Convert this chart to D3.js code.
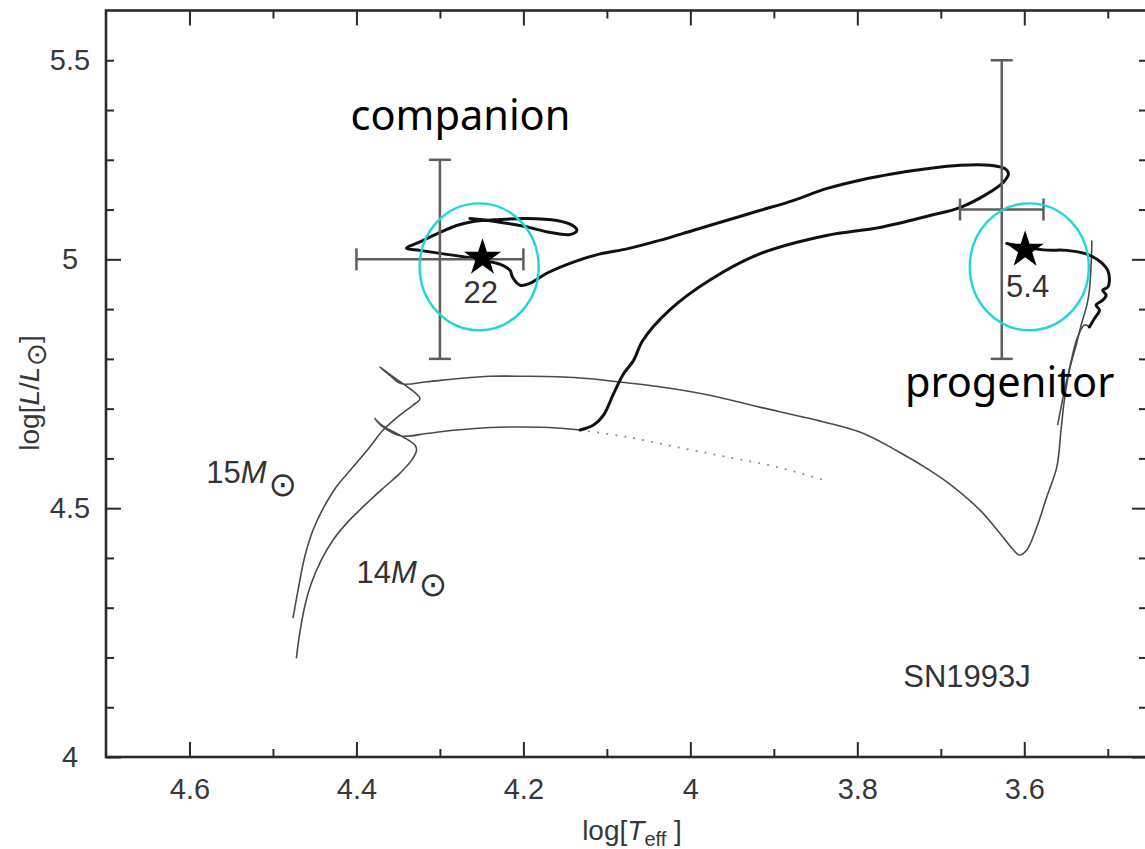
<!DOCTYPE html>
<html><head><meta charset="utf-8">
<script src="https://cdn.jsdelivr.net/npm/d3@7"></script>
<style>body{margin:0;background:#fff}svg{display:block}</style>
</head><body>
<svg id="c" width="1145" height="849"></svg>
<script>
// ---- axes ----
const xDomain = [4.7, 3.453];
const yDomain = [4.0, 5.5];
const xTickValues = [4.6, 4.4, 4.2, 4.0, 3.8, 3.6];
const xTickLabels = ["4.6", "4.4", "4.2", "4", "3.8", "3.6"];
const xMinorTicks = [4.5, 4.3, 4.1, 3.9, 3.7, 3.5];
const yTickValues = [4.0, 4.5, 5.0];
const yMinorTicks = [4.1, 4.2, 4.3, 4.4, 4.6, 4.7, 4.8, 4.9, 5.1, 5.2, 5.3, 5.4];
const yLabelValues = [4.0, 4.5, 5.0, 5.4];
const yTickLabels = ["4", "4.5", "5", "5.5"];

// ---- tracks [log Teff, log L] ----
const track15Msun = [[4.476,4.279],[4.470,4.335],[4.462,4.402],[4.452,4.456],[4.440,4.499],[4.424,4.543],[4.404,4.583],[4.384,4.623],[4.368,4.657],[4.348,4.687],[4.332,4.707],[4.324,4.720],
  [4.336,4.740],[4.356,4.764],[4.372,4.784],[4.360,4.767],[4.346,4.750],
  [4.316,4.754],[4.280,4.760],[4.240,4.765],[4.200,4.765],[4.160,4.764],[4.120,4.760],[4.088,4.754],[4.037,4.744],[3.977,4.727],[3.917,4.703],[3.857,4.680],[3.797,4.653],
  [3.749,4.612],[3.713,4.576],[3.685,4.543],[3.653,4.496],[3.629,4.449],[3.613,4.416],[3.606,4.406],[3.597,4.416],[3.585,4.462],[3.573,4.523],[3.561,4.583],[3.556,4.657],[3.552,4.717],[3.546,4.777],[3.538,4.827],[3.531,4.873],[3.525,4.908],[3.522,4.938],[3.520,4.988],[3.519,5.038]];
const track15Loop = [[3.560,4.667],[3.553,4.727],[3.545,4.787],[3.537,4.840],[3.528,4.868],[3.522,4.864]];
const track15Final = [[3.522,4.864],[3.516,4.881],[3.510,4.898],[3.514,4.908],[3.506,4.918],[3.502,4.928],[3.506,4.938],[3.500,4.944],[3.498,4.958],[3.500,4.978],[3.506,4.991],[3.514,5.001],[3.526,5.011],[3.549,5.018],[3.577,5.019],[3.621,5.032]];
const track14Msun = [[4.472,4.198],[4.468,4.248],[4.462,4.302],[4.454,4.349],[4.442,4.396],[4.428,4.436],[4.410,4.473],[4.390,4.506],[4.368,4.540],[4.348,4.570],[4.334,4.596],[4.328,4.616],[4.330,4.627],[4.344,4.643],[4.360,4.657],[4.372,4.670],[4.378,4.680],[4.368,4.663],[4.346,4.645],
  [4.316,4.650],[4.280,4.657],[4.240,4.662],[4.200,4.663],[4.160,4.661],[4.132,4.657]];
const track14NoAccretion = [[4.132,4.657],[4.076,4.643],[4.017,4.623],[3.957,4.603],[3.897,4.583],[3.839,4.556]];
const trackAccretor = [[4.132,4.657],[4.116,4.667],[4.104,4.687],[4.092,4.730],[4.080,4.770],[4.068,4.797],[4.057,4.837],[4.025,4.898],[3.977,4.958],[3.917,5.011],[3.837,5.048],[3.773,5.064],[3.713,5.088],[3.677,5.104],[3.645,5.131],[3.625,5.155],[3.619,5.172],[3.623,5.182],[3.641,5.189],[3.677,5.189],[3.717,5.182],[3.757,5.172],[3.797,5.159],[3.837,5.142],[3.877,5.118],[3.917,5.098],[3.957,5.078],[3.997,5.058],[4.037,5.038],[4.076,5.021],[4.108,5.011],[4.141,4.994],[4.172,4.972],[4.192,4.952],[4.204,4.948],[4.213,4.964],[4.216,4.978],[4.225,4.988],[4.232,4.992],[4.249,4.998],[4.268,5.004],[4.300,5.012],[4.324,5.018],[4.340,5.022],[4.320,5.038],[4.300,5.054],[4.280,5.068],[4.260,5.076],[4.228,5.080],[4.196,5.082],[4.160,5.078],[4.141,5.068],[4.136,5.058],[4.144,5.050],[4.168,5.054],[4.198,5.066],[4.234,5.076],[4.264,5.082]];

// ---- observed stars ----
const starNames = ["companion", "progenitor"];
const starT = [4.249, 3.599];
const starL = [5.003, 5.019];
const errT = [4.30, 3.627];
const errL = [5.0, 5.1];
const errDT = [0.1, 0.05];
const errDL = [0.2, 0.3];
const massLabels = ["22", "5.4"];
const massLabelT = [4.251, 3.596];
const massLabelL = [4.912, 4.924];
const circleT = [4.253, 3.594];
const circleL = [4.985, 4.985];
const circleRT = [0.0713, 0.0713];
const circleRL = [0.1275, 0.1275];
const nameT = [4.407, 3.743];
const nameL = [5.259, 4.723];

const svg = d3.select("#c");
const x = d3.scaleLinear().domain(xDomain).range([106, 1147]);
const y = d3.scaleLinear().domain(yDomain).range([757, 10.5]);
const axisFont = "'Liberation Sans', Arial, Helvetica, sans-serif";
const ink = "#2b2b2b";

svg.append("rect").attr("width",1145).attr("height",849).attr("fill","#fff");

function styleAxis(g){
  g.select(".domain").remove();
  g.selectAll(".tick line").attr("stroke", ink).attr("stroke-width", 2);
  g.selectAll("text").attr("font-family", axisFont).attr("font-size", 29).attr("fill", "#383838");
}
// bottom
svg.append("g").attr("transform","translate(0,757)")
  .call(d3.axisBottom(x).tickValues(xTickValues).tickFormat((d,i)=>xTickLabels[i]).tickSizeInner(-15).tickSizeOuter(0).tickPadding(21)).call(styleAxis);
svg.append("g").attr("transform","translate(0,757)")
  .call(d3.axisBottom(x).tickValues(xMinorTicks).tickFormat("").tickSizeInner(-8).tickSizeOuter(0)).call(styleAxis);
// top
svg.append("g").attr("transform","translate(0,10.5)")
  .call(d3.axisTop(x).tickValues(xTickValues).tickFormat("").tickSizeInner(-15).tickSizeOuter(0)).call(styleAxis);
svg.append("g").attr("transform","translate(0,10.5)")
  .call(d3.axisTop(x).tickValues(xMinorTicks).tickFormat("").tickSizeInner(-8).tickSizeOuter(0)).call(styleAxis);
// left
svg.append("g").attr("transform","translate(106,0)")
  .call(d3.axisLeft(y).tickValues(yTickValues).tickFormat("").tickSizeInner(-15).tickSizeOuter(0)).call(styleAxis);
svg.append("g").attr("transform","translate(106,0)")
  .call(d3.axisLeft(y).tickValues(yMinorTicks).tickFormat("").tickSizeInner(-8).tickSizeOuter(0)).call(styleAxis);
const yl = svg.append("g").attr("transform","translate(106,0)")
  .call(d3.axisLeft(y).tickValues(yLabelValues).tickFormat((d,i)=>yTickLabels[i]).tickSize(0).tickPadding(36)).call(styleAxis);
yl.selectAll("text").attr("text-anchor","middle");
// right
svg.append("g").attr("transform","translate(1147,0)")
  .call(d3.axisRight(y).tickValues(yTickValues).tickFormat("").tickSizeInner(-15).tickSizeOuter(0)).call(styleAxis);
svg.append("g").attr("transform","translate(1147,0)")
  .call(d3.axisRight(y).tickValues(yMinorTicks).tickFormat("").tickSizeInner(-8).tickSizeOuter(0)).call(styleAxis);

// frame
svg.append("rect").attr("x",106).attr("y",10.5).attr("width",1041).attr("height",746.5)
  .attr("fill","none").attr("stroke",ink).attr("stroke-width",2.6);

// axis titles
const xt = svg.append("text").attr("x",632).attr("y",840).attr("text-anchor","middle")
  .attr("font-family",axisFont).attr("font-size",28).attr("fill","#383838");
xt.append("tspan").text("log[");
xt.append("tspan").attr("font-style","italic").text("T");
xt.append("tspan").attr("font-size",20).attr("dy",6).text("eff");
xt.append("tspan").attr("dy",-6).text(" ]");

const ytl = svg.append("text").attr("transform","translate(39,393) rotate(-90)").attr("text-anchor","middle")
  .attr("font-family",axisFont).attr("font-size",28).attr("fill","#383838");
ytl.append("tspan").text("log[");
ytl.append("tspan").attr("font-style","italic").text("L");
ytl.append("tspan").text("/");
ytl.append("tspan").attr("font-style","italic").text("L");
ytl.append("tspan").attr("font-family","'DejaVu Sans'").attr("font-size",28).attr("dy",7).text("\u2299");
ytl.append("tspan").attr("dy",-7).text("]");

// tracks
const line = d3.line().x(d=>x(d[0])).y(d=>y(d[1])).curve(d3.curveCatmullRom.alpha(0.5));
[track15Msun, track15Loop, track14Msun].forEach(t=>{
  svg.append("path").attr("d", line(t)).attr("fill","none").attr("stroke","#4a4a4a").attr("stroke-width",1.6).attr("stroke-linejoin","round");
});
svg.append("path").attr("d", line(track14NoAccretion)).attr("fill","none").attr("stroke","#8a8a8a")
  .attr("stroke-width",2).attr("stroke-linecap","round").attr("stroke-dasharray","0.1 9");
[trackAccretor, track15Final].forEach(t=>{
  svg.append("path").attr("d", line(t)).attr("fill","none").attr("stroke","#111").attr("stroke-width",3)
    .attr("stroke-linejoin","round").attr("stroke-linecap","round");
});

// error bars
const cap = 11;
const eb = svg.append("g").attr("stroke","#5e5e5e").attr("stroke-width",2.5);
errT.forEach((t,i)=>{
  const cx = x(t), cy = y(errL[i]);
  const x0 = x(t+errDT[i]), x1 = x(t-errDT[i]);
  const y0 = y(errL[i]+errDL[i]), y1 = y(errL[i]-errDL[i]);
  eb.append("line").attr("x1",x0).attr("x2",x1).attr("y1",cy).attr("y2",cy);
  eb.append("line").attr("x1",x0).attr("x2",x0).attr("y1",cy-cap).attr("y2",cy+cap);
  eb.append("line").attr("x1",x1).attr("x2",x1).attr("y1",cy-cap).attr("y2",cy+cap);
  eb.append("line").attr("x1",cx).attr("x2",cx).attr("y1",y0).attr("y2",y1);
  eb.append("line").attr("x1",cx-cap).attr("x2",cx+cap).attr("y1",y0).attr("y2",y0);
  eb.append("line").attr("x1",cx-cap).attr("x2",cx+cap).attr("y1",y1).attr("y2",y1);
});

// stars
const star = d3.symbol().type(d3.symbolStar).size(430);
starT.forEach((t,i)=>{
  svg.append("path").attr("d",star()).attr("transform",`translate(${x(t)},${y(starL[i])})`).attr("fill","#000");
});
// mass labels
massLabels.forEach((m,i)=>{
  svg.append("text").attr("x",x(massLabelT[i])).attr("y",y(massLabelL[i])).attr("text-anchor","middle")
    .attr("font-family",axisFont).attr("font-size",31).attr("fill","#333").text(m);
});
// cyan highlight ellipses
circleT.forEach((t,i)=>{
  svg.append("ellipse").attr("cx",x(t)).attr("cy",y(circleL[i]))
    .attr("rx",Math.abs(x(t+circleRT[i])-x(t))).attr("ry",Math.abs(y(circleL[i]+circleRL[i])-y(circleL[i])))
    .attr("fill","none").attr("stroke","#1fd6da").attr("stroke-width",2.4);
});
// names
starNames.forEach((n,i)=>{
  svg.append("text").attr("x",x(nameT[i])).attr("y",y(nameL[i]))
    .attr("font-family","'Noto Sans','Open Sans',sans-serif").attr("font-size",41.5).attr("fill","#000").text(n);
});

// model labels
const modelLabels = ["15", "14"];
const modelT = [4.580, 4.400];
const modelL = [4.550, 4.349];
modelLabels.forEach((m,i)=>{
  const t = svg.append("text").attr("x",x(modelT[i])).attr("y",y(modelL[i]))
    .attr("font-family",axisFont).attr("font-size",31).attr("fill","#333");
  t.append("tspan").text(m);
  t.append("tspan").attr("font-style","italic").text("M");
  t.append("tspan").attr("font-family","'DejaVu Sans'").attr("font-size",34).attr("dx",2).attr("dy",13).text("\u2299");
});
const sn = ["SN1993J"];
svg.append("text").attr("x",x(3.745)).attr("y",y(4.141)).attr("font-family",axisFont).attr("font-size",31)
  .attr("fill","#333").text(sn[0]);
</script>
</body></html>
